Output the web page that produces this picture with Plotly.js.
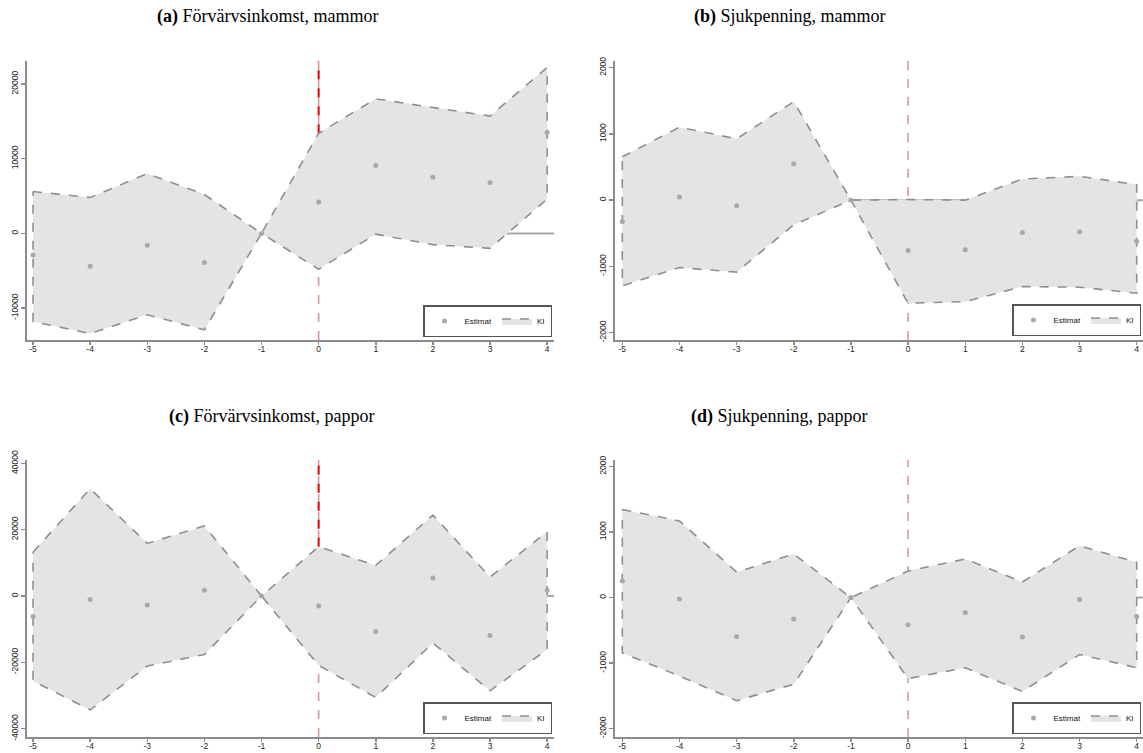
<!DOCTYPE html>
<html>
<head>
<meta charset="utf-8">
<script src="https://cdn.plot.ly/plotly-3.0.1.min.js"></script>
<style>html,body{margin:0;padding:0;background:#fff;}#chart{width:1143px;height:753px;}</style>
</head>
<body>
<div id="chart"></div>
<script>
// ---- data ----
const periods = [-5, -4, -3, -2, -1, 0, 1, 2, 3, 4];

const aEst = [-2900, -4400, -1600, -3900, 0, 4200, 9100, 7500, 6800, 13500];
const aHi  = [5600, 4800, 8000, 5200, 0, 13400, 18000, 16800, 15700, 22200];
const aLo  = [-11800, -13400, -10900, -12900, 0, -4800, -100, -1500, -2000, 4600];

const bEst = [-320, 48, -83, 548, 0, -760, -750, -487, -477, -620];
const bHi  = [654, 1101, 926, 1486, 0, 10, 0, 320, 360, 235];
const bLo  = [-1293, -1017, -1086, -371, 0, -1555, -1531, -1304, -1313, -1404];

const cEst = [-6200, -1040, -2700, 1760, 0, -3000, -10700, 5430, -11900, 1760];
const cHi  = [13200, 32350, 15860, 21140, 0, 14880, 9210, 24420, 5720, 19350];
const cLo  = [-25580, -34320, -21110, -17620, 0, -20900, -30560, -14160, -28560, -16130];

const dEst = [254, -23, -592, -325, 0, -415, -229, -602, -29, -290];
const dHi  = [1345, 1170, 389, 666, 0, 405, 590, 238, 792, 540];
const dLo  = [-844, -1195, -1573, -1321, 0, -1236, -1070, -1432, -868, -1070];

const aTicks = [-10000, 0, 10000, 20000];
const bTicks = [-2000, -1000, 0, 1000, 2000];
const cTicks = [-40000, -20000, 0, 20000, 40000];
const dTicks = [-2000, -1000, 0, 1000, 2000];

const titles = [
  '<b>(a)</b> Förvärvsinkomst, mammor',
  '<b>(b)</b> Sjukpenning, mammor',
  '<b>(c)</b> Förvärvsinkomst, pappor',
  '<b>(d)</b> Sjukpenning, pappor'
];
const estName = 'Estimat';
const ciName = 'KI';

// ---- layout helpers ----
const W = 1143, H = 753;
const px = v => v / W;
const py = v => 1 - v / H;

const panels = [
  {est: aEst, hi: aHi, lo: aLo, yt: aTicks, xd: [px(27), px(554)], yd: [py(340), py(61)], xr: [-5.105, 4.12], yr: [-14267, 23067], red: true,
   title: {x: px(268), y: py(17)}, leg: {x: px(552), y: py(337)}},
  {est: bEst, hi: bHi, lo: bLo, yt: bTicks, xd: [px(615), 1], yd: [py(340), py(61)], xr: [-5.128, 4.11], yr: [-2110, 2100], red: false,
   title: {x: px(790), y: py(17)}, leg: {x: px(1141), y: py(336)}},
  {est: cEst, hi: cHi, lo: cLo, yt: cTicks, xd: [px(27), px(554)], yd: [py(737), py(460)], xr: [-5.105, 4.12], yr: [-42490, 41000], red: true,
   title: {x: px(271), y: py(417)}, leg: {x: px(552), y: py(734)}},
  {est: dEst, hi: dHi, lo: dLo, yt: dTicks, xd: [px(615), 1], yd: [py(737), py(460)], xr: [-5.128, 4.11], yr: [-2127, 2100], red: false,
   title: {x: px(779), y: py(417)}, leg: {x: px(1141), y: py(734)}}
];

const traces = [];
const layout = {
  width: W, height: H,
  margin: {l: 0, r: 0, t: 0, b: 0},
  paper_bgcolor: '#fff', plot_bgcolor: 'rgba(0,0,0,0)',
  font: {family: 'Liberation Sans, Arial, sans-serif', size: 8, color: '#222'},
  shapes: [], annotations: []
};

panels.forEach((p, i) => {
  const n = i === 0 ? '' : String(i + 1);
  const xa = 'x' + n, ya = 'y' + n;
  const legName = 'legend' + n;

  // CI polygon: upper from left to right, lower back from right to left
  const polyX = periods.concat(periods.slice().reverse());
  const polyY = p.hi.concat(p.lo.slice().reverse());
  polyX.push(periods[0]); polyY.push(p.hi[0]);

  traces.push({
    type: 'scatter', mode: 'lines', x: polyX, y: polyY,
    xaxis: xa, yaxis: ya, fill: 'toself', fillcolor: '#e4e4e4',
    line: {color: '#8f8f8f', width: 1.6, dash: 'dash'},
    name: ciName, legend: legName, legendrank: 2, hoverinfo: 'skip'
  });
  traces.push({
    type: 'scatter', mode: 'markers', x: periods, y: p.est,
    xaxis: xa, yaxis: ya,
    marker: {color: '#a9a9a9', size: 5, symbol: 'circle'},
    name: estName, legend: legName, legendrank: 1
  });

  layout['xaxis' + n] = {
    domain: p.xd, range: p.xr, anchor: ya,
    tickmode: 'array', tickvals: periods, ticktext: periods.map(String),
    showgrid: false, zeroline: false,
    showline: true, linecolor: '#8c8c8c', linewidth: 2,
    ticks: 'outside', ticklen: 3, tickwidth: 1.5, tickcolor: '#8c8c8c',
    ticklabelstandoff: -3,
    tickfont: {size: 8.5, color: '#222', family: 'Liberation Sans, Arial, sans-serif'}
  };
  layout['yaxis' + n] = {
    domain: p.yd, range: p.yr, anchor: xa,
    tickmode: 'array', tickvals: p.yt, ticktext: p.yt.map(String),
    showgrid: false, zeroline: false,
    showline: true, linecolor: '#8c8c8c', linewidth: 2,
    ticks: 'outside', ticklen: 4, tickwidth: 1.5, tickcolor: '#8c8c8c',
    tickangle: -90,
    tickfont: {size: 8.5, color: '#222', family: 'Liberation Sans, Arial, sans-serif'}
  };

  layout[legName] = {
    x: p.leg.x, y: p.leg.y, xref: 'paper', yref: 'paper',
    xanchor: 'right', yanchor: 'bottom', orientation: 'h',
    bgcolor: '#fff', bordercolor: '#555', borderwidth: 1.5,
    font: {size: 8, color: '#111'}, itemwidth: 30,
    tracegroupgap: 0
  };

  // zero line (beneath the band)
  layout.shapes.push({
    type: 'line', layer: 'below', xref: xa, yref: ya,
    x0: periods[0], x1: p.xr[1], y0: 0, y1: 0,
    line: {color: '#a6a6a6', width: 2}
  });
  // vertical reference line at period 0
  layout.shapes.push({
    type: 'line', layer: 'below', xref: xa, yref: ya + ' domain',
    x0: 0, x1: 0, y0: 0, y1: 1,
    line: {color: '#d79a9a', width: 1.6, dash: 'dash'}
  });
  if (p.red) {
    const k = periods.indexOf(0);
    layout.shapes.push({
      type: 'line', layer: 'below', xref: xa, yref: ya,
      x0: 0, x1: 0, y0: p.hi[k], y1: p.yr[1],
      line: {color: '#e00000', width: 2, dash: 'dash'}
    });
  }

  layout.annotations.push({
    text: titles[i], xref: 'paper', yref: 'paper',
    x: p.title.x, y: p.title.y, xanchor: 'center', yanchor: 'middle',
    showarrow: false,
    font: {family: 'Liberation Serif, Times New Roman, serif', size: 18, color: '#000'}
  });
});

Plotly.newPlot('chart', traces, layout, {staticPlot: true, displayModeBar: false});
</script>
</body>
</html>
